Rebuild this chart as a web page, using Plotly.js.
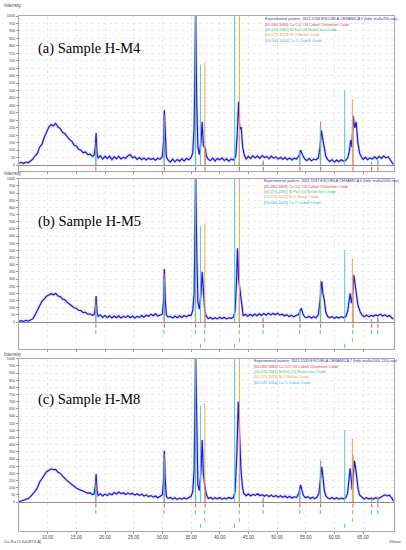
<!DOCTYPE html>
<html>
<head>
<meta charset="utf-8">
<script src="https://cdn.plot.ly/plotly-3.0.1.min.js"></script>
<style>html,body{margin:0;padding:0;background:#fff;}#chart{width:406px;height:550px;}</style>
</head>
<body>
<div id="chart"></div>
<script>
// ---------- DATA ----------
// Sample H-M4 (panel a)
const m4X = [5.0,5.4,5.8,6.2,6.6,7.0,7.4,7.8,8.2,8.6,9.0,9.4,9.8,10.2,10.6,11.0,11.4,11.8,12.2,12.6,13.0,13.4,13.8,14.2,14.6,15.0,15.4,15.8,16.2,16.6,17.0,17.4,17.8,18.1,18.3,18.45,18.6,18.8,19.2,19.6,20.0,20.4,20.8,21.2,21.6,22.0,22.4,22.8,23.2,23.6,24.0,24.4,24.8,25.2,25.6,26.0,26.4,26.8,27.2,27.6,28.0,28.4,28.8,29.2,29.6,30.0,30.2,30.35,30.5,30.7,31.0,31.4,31.8,32.2,32.6,33.0,33.4,33.8,34.2,34.6,35.0,35.3,35.55,35.8,36.0,36.2,36.45,36.75,36.95,37.15,37.45,37.7,38.0,38.4,38.8,39.2,39.6,40.0,40.4,40.8,41.2,41.6,42.0,42.4,42.8,43.05,43.3,43.5,43.75,44.0,44.3,44.6,45.0,45.4,45.8,46.2,46.6,47.0,47.4,47.8,48.2,48.6,49.0,49.4,49.8,50.2,50.6,51.0,51.4,51.8,52.2,52.6,53.0,53.4,53.8,54.1,54.4,54.8,55.2,55.6,56.0,56.4,56.8,57.2,57.5,57.75,57.95,58.2,58.5,58.8,59.2,59.6,60.0,60.4,60.8,61.2,61.6,62.0,62.3,62.6,62.85,63.05,63.3,63.55,63.8,64.1,64.4,64.7,65.0,65.4,65.8,66.2,66.6,67.0,67.4,67.8,68.2,68.6,69.0,69.4,69.8,70.1,70.3];
const m4Y = [12,18,10,20,15,28,40,62,78,120,140,185,220,255,272,262,280,255,245,220,210,188,172,160,132,128,105,100,82,88,70,74,58,66,120,215,80,48,62,40,58,44,60,36,55,42,58,40,52,45,62,70,48,56,38,50,36,48,34,46,38,44,32,46,38,55,150,368,170,55,35,20,40,22,38,26,42,28,44,35,50,80,250,1050,420,120,70,160,290,130,115,60,38,30,46,28,44,35,48,30,42,26,40,34,60,200,425,240,255,120,65,40,58,44,62,48,60,45,64,50,58,42,60,46,55,40,52,38,50,36,48,34,46,40,60,100,72,42,30,44,28,40,34,48,120,232,180,110,60,38,24,36,20,34,22,36,26,32,45,90,168,120,328,250,290,150,80,55,38,52,36,48,40,55,42,58,44,60,48,55,35,20,4];

// Sample H-M5 (panel b)
const m5X = [5.0,5.4,5.8,6.2,6.6,7.0,7.4,7.8,8.2,8.6,9.0,9.4,9.8,10.2,10.6,11.0,11.4,11.8,12.2,12.6,13.0,13.4,13.8,14.2,14.6,15.0,15.4,15.8,16.2,16.6,17.0,17.4,17.8,18.1,18.3,18.45,18.6,18.8,19.2,19.6,20.0,20.4,20.8,21.2,21.6,22.0,22.4,22.8,23.2,23.6,24.0,24.4,24.8,25.2,25.6,26.0,26.4,26.8,27.2,27.6,28.0,28.4,28.8,29.2,29.6,30.0,30.2,30.35,30.5,30.7,31.0,31.4,31.8,32.2,32.6,33.0,33.4,33.8,34.2,34.6,35.0,35.3,35.55,35.8,36.0,36.2,36.45,36.75,36.95,37.15,37.4,37.7,38.0,38.4,38.8,39.2,39.6,40.0,40.4,40.8,41.2,41.6,42.0,42.4,42.7,42.95,43.1,43.3,43.55,43.8,44.1,44.5,44.9,45.3,45.7,46.1,46.5,46.9,47.3,47.7,48.1,48.5,48.9,49.3,49.7,50.1,50.5,50.9,51.3,51.7,52.1,52.5,52.9,53.3,53.7,54.0,54.25,54.5,54.8,55.2,55.6,56.0,56.4,56.8,57.2,57.5,57.8,58.0,58.25,58.5,58.8,59.2,59.6,60.0,60.4,60.8,61.2,61.6,62.0,62.3,62.55,62.75,63.0,63.2,63.4,63.6,63.8,64.1,64.5,64.8,65.2,65.6,66.0,66.4,66.8,67.2,67.6,68.0,68.4,68.8,69.2,69.6,70.0,70.3];
const m5Y = [5,10,4,12,6,14,22,50,80,110,145,162,180,188,198,190,200,182,178,160,155,138,125,118,100,96,82,80,66,68,55,58,46,52,100,182,70,40,50,32,46,30,44,28,42,30,44,28,40,32,44,30,42,28,40,32,46,34,48,40,55,44,58,42,50,55,140,370,160,50,34,40,28,42,30,44,32,46,36,48,45,80,200,1050,500,140,90,200,350,180,72,40,24,32,20,30,22,34,24,32,22,30,26,34,80,300,514,300,212,110,45,55,40,54,42,56,44,58,46,60,48,62,50,60,52,62,48,55,42,52,38,48,36,45,50,75,96,60,36,30,40,28,38,30,50,150,282,200,150,70,40,30,38,26,36,28,38,30,40,70,150,200,132,200,328,260,223,120,72,50,38,48,36,46,40,50,44,55,42,50,38,46,30,20];

// Sample H-M8 (panel c)
const m8X = [5.0,5.4,5.8,6.2,6.6,7.0,7.4,7.8,8.2,8.6,9.0,9.4,9.8,10.2,10.6,11.0,11.4,11.8,12.2,12.6,13.0,13.4,13.8,14.2,14.6,15.0,15.4,15.8,16.2,16.6,17.0,17.4,17.8,18.1,18.3,18.45,18.6,18.8,19.2,19.6,20.0,20.4,20.8,21.2,21.6,22.0,22.4,22.8,23.2,23.6,24.0,24.4,24.8,25.2,25.6,26.0,26.4,26.8,27.2,27.6,28.0,28.4,28.8,29.2,29.6,30.0,30.2,30.35,30.5,30.7,31.0,31.4,31.8,32.2,32.6,33.0,33.4,33.8,34.2,34.6,35.0,35.3,35.55,35.8,36.0,36.2,36.45,36.75,36.95,37.15,37.45,37.7,38.0,38.4,38.8,39.2,39.6,40.0,40.4,40.8,41.2,41.6,42.0,42.4,42.7,43.0,43.25,43.45,43.7,43.95,44.2,44.6,45.0,45.4,45.8,46.2,46.6,47.0,47.4,47.8,48.2,48.6,49.0,49.4,49.8,50.2,50.6,51.0,51.4,51.8,52.2,52.6,53.0,53.4,53.8,54.1,54.35,54.6,55.0,55.4,55.8,56.2,56.6,57.0,57.3,57.55,57.8,58.0,58.25,58.5,58.8,59.2,59.6,60.0,60.4,60.8,61.2,61.6,62.0,62.3,62.55,62.75,62.95,63.1,63.3,63.5,63.7,63.9,64.15,64.4,64.8,65.2,65.6,66.0,66.4,66.8,67.2,67.6,68.0,68.4,68.8,69.2,69.6,70.0,70.3];
const m8Y = [2,8,12,18,24,38,55,75,100,140,162,190,212,220,232,225,228,208,200,180,168,150,135,122,108,98,90,84,74,72,62,64,52,55,110,195,80,45,58,42,55,45,60,50,66,55,70,58,65,52,64,55,60,48,58,46,55,42,50,38,45,34,42,30,40,50,150,358,160,40,25,32,20,30,18,28,20,30,22,34,40,70,230,1050,480,120,80,220,432,200,100,50,25,32,20,30,22,32,20,28,22,32,24,30,80,350,700,420,235,110,60,44,56,42,54,46,58,44,52,40,50,38,48,36,46,34,44,32,42,30,40,28,36,32,60,119,80,45,30,38,24,34,22,36,60,160,246,180,80,45,30,22,32,20,30,20,28,22,30,60,160,235,160,84,180,288,240,167,90,49,32,20,30,22,28,20,30,22,32,40,50,42,48,30,5];

// Reference patterns (position 2theta, relative intensity)
const crPos = [18.4,30.35,35.8,37.45,43.45,47.6,54.0,57.6,63.25,66.5,67.6];   // [00-080-1668] Co Cr2 O4
const crInt = [150,335,1000,90,200,30,80,290,330,20,30];
const nfPos = [18.4,30.3,35.75,37.4,43.4,47.55,53.95,57.55,63.2,66.45,67.55]; // [00-074-2081] Ni Fe2 O4
const nfInt = [120,300,1000,80,200,20,90,260,330,20,40];
const noPos = [37.4,43.45,63.15];  // [00-073-1523] Ni O
const noInt = [690,1000,442];
const coPos = [36.65,42.6,61.8];   // [00-043-1004] Co O
const coInt = [672,1000,502];

const xTickVals = [10,15,20,25,30,35,40,45,50,55,60,65];
const xTickText = ['10.00','15.00','20.00','25.00','30.00','35.00','40.00','45.00','50.00','55.00','60.00','65.00'];
const yTickVals = [0,50,100,150,200,250,300,350,400,450,500,550,600,650,700,750,800,850,900,950,1000];
const yTickText = ['0','50','100','150','200','250','300','350','400','450','500','550','600','650','700','750','800','850','900','950','1000'];

const sampleTitles = ['(a) Sample H-M4','(b) Sample H-M5','(c) Sample H-M8'];
const expNames = [
  'Experimental pattern: 2021-5536 ESCUELA CERAMICA 5 (hdtc mufla700.raw)',
  'Experimental pattern: 2021-5537 ESCUELA CERAMICA 6 (hdtc mufla1000.raw)',
  'Experimental pattern: 2021-5539 ESCUELA CERAMICA 7 (hdtc mufla1000 120).raw)'
];
const refNames = [
  '[00-080-1668] Co Cr2 O4 Cobalt Chromium Oxide',
  '[00-074-2081] Ni Fe2 O4 Nickel Iron Oxide',
  '[00-073-1523] Ni O Nickel Oxide',
  '[00-043-1004] Co O Cobalt Oxide'
];

// ---------- STYLE / LAYOUT ----------
const W = 406, H = 550;
const px = v => v / W;
const py = v => 1 - v / H;
const dataColor = '#1212f2';
const stickColors = ['#f25a5a','#3ddc97','#f7a440','#4cc4f2'];
const legColors = ['#3030d8','#f03c3c','#22cf85','#f59a2a','#2fb4ea'];
const refs = [[crPos,crInt],[nfPos,nfInt],[noPos,noInt],[coPos,coInt]];
const rowY = [-25,-70,-126,-166];

const panels = [
  {x: m4X, y: m4Y, top: 16, bottom: 171, ymin: -40, titleY: 48, intY: 5.5, legX: 263, legY: 19.3},
  {x: m5X, y: m5Y, top: 178.7, bottom: 349, ymin: -188, titleY: 221, intY: 173.5, legX: 261.5, legY: 181.3},
  {x: m8X, y: m8Y, top: 358.7, bottom: 530.7, ymin: -200, titleY: 399, intY: 354, legX: 252, legY: 361.3}
];

function stickTrace(pos, ints, color, ax){
  const x = [], y = [];
  pos.forEach((p,i) => { x.push(p,p,null); y.push(0,ints[i],null); });
  return {x, y, type:'scatter', mode:'lines', line:{color, width:1.1}, opacity:0.9,
          xaxis:'x'+ax, yaxis:'y'+ax, hoverinfo:'skip'};
}
function markTrace(pos, row, color, ax){
  const x = [], y = [];
  pos.forEach(p => { x.push(p,p,null); y.push(row+14,row-14,null); });
  return {x, y, type:'scatter', mode:'lines', line:{color, width:1.1},
          xaxis:'x'+ax, yaxis:'y'+ax, hoverinfo:'skip', cliponaxis:true};
}

const traces = [];
const layout = {
  width: W, height: H, margin:{l:0,r:0,t:0,b:0},
  paper_bgcolor:'#ffffff', plot_bgcolor:'#ffffff', showlegend:false,
  font:{family:'Liberation Sans, Arial, sans-serif', color:'#333'},
  annotations: []
};

panels.forEach((p, i) => {
  const ax = i === 0 ? '' : String(i+1);
  const domY = [py(p.bottom), py(p.top)];
  // soft halo + data
  traces.push({x:p.x, y:p.y, type:'scatter', mode:'lines', line:{color:'#9a9af5', width:2.4},
               xaxis:'x'+ax, yaxis:'y'+ax, hoverinfo:'skip', opacity:0.5});
  traces.push({x:p.x, y:p.y, type:'scatter', mode:'lines', line:{color:dataColor, width:1.1},
               xaxis:'x'+ax, yaxis:'y'+ax, hoverinfo:'skip'});
  // sticks & marks
  refs.forEach((r, k) => {
    traces.push(stickTrace(r[0], r[1], stickColors[k], ax));
    traces.push(markTrace(r[0], rowY[k], stickColors[k], ax));
  });
  layout['xaxis'+ax] = {
    domain:[px(19), px(394)], range:[5,70.4], anchor:'y'+ax,
    tickmode:'array', tickvals:xTickVals, ticktext: i === 2 ? xTickText : xTickVals.map(()=>''),
    ticks:'outside', ticklen:2, tickcolor:'#999', tickfont:{size:4.6, color:'#444'},
    showgrid:true, gridcolor:'#dcdcdc', griddash:'dot', gridwidth:0.6,
    showline:true, linecolor:'#a8a8a8', linewidth:1, mirror:true, zeroline:false, fixedrange:true
  };
  layout['yaxis'+ax] = {
    domain:domY, range:[p.ymin, 1000], anchor:'x'+ax,
    tickmode:'array', tickvals:yTickVals, ticktext:yTickText,
    ticks:'outside', ticklen:2, tickcolor:'#999', tickfont:{size:3.8, color:'#444'},
    showgrid:true, gridcolor:'#dcdcdc', griddash:'dot', gridwidth:0.6,
    showline:true, linecolor:'#a8a8a8', linewidth:1, mirror:true,
    zeroline:true, zerolinecolor:'#8c8c8c', zerolinewidth:1, fixedrange:true
  };
  layout.annotations.push({text:'Intensity', xref:'paper', yref:'paper', x:px(2), y:py(p.intY),
    xanchor:'left', yanchor:'middle', showarrow:false, font:{size:4.6, color:'#444'}});
  layout.annotations.push({text:sampleTitles[i], xref:'paper', yref:'paper', x:px(36), y:py(p.titleY),
    xanchor:'left', yanchor:'middle', showarrow:false,
    font:{family:'Liberation Serif, DejaVu Serif, serif', size:14.5, color:'#000'}});
  const lines = [expNames[i]].concat(refNames);
  lines.forEach((t, k) => {
    layout.annotations.push({text:t, xref:'paper', yref:'paper', x:px(p.legX), y:py(p.legY + k*5.35),
      xanchor:'left', yanchor:'middle', showarrow:false,
      font:{size:3.8, color:legColors[k]}});
  });
});

layout.annotations.push({text:'Cu-K\u03b1 (1.541874 \u00c5)', xref:'paper', yref:'paper', x:px(2), y:py(541.5),
  xanchor:'left', yanchor:'middle', showarrow:false, font:{size:4.2, color:'#444'}});
layout.annotations.push({text:'2theta', xref:'paper', yref:'paper', x:px(403), y:py(541.5),
  xanchor:'right', yanchor:'middle', showarrow:false, font:{size:4.2, color:'#444'}});

Plotly.newPlot('chart', traces, layout, {displayModeBar:false, staticPlot:true});
</script>
</body>
</html>
